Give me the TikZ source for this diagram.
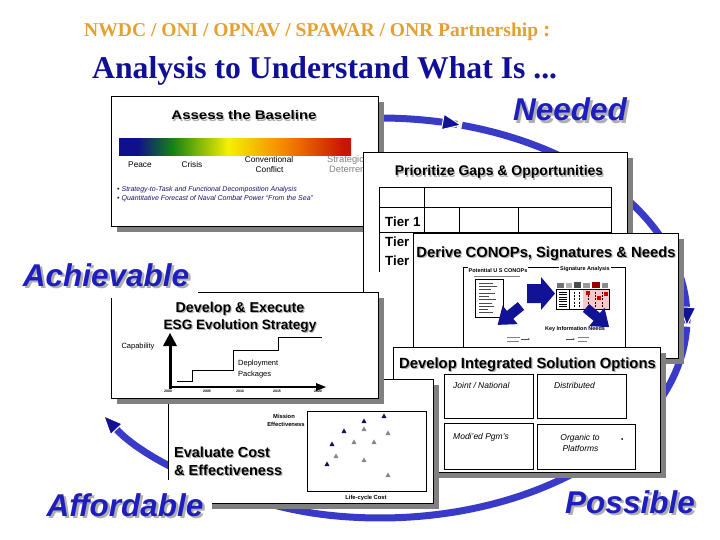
\documentclass[tikz,border=0pt]{standalone}
\usepackage{fontspec}
\setmainfont{Liberation Serif}
\setsansfont{Liberation Sans}
\usetikzlibrary{arrows.meta}
\newcommand\fpx[1]{\fontsize{#1}{#1}\selectfont}
\definecolor{ttlorange}{RGB}{228,160,48}
\definecolor{ttlblue}{RGB}{16,16,150}
\definecolor{bigblue}{RGB}{30,30,190}
\definecolor{arcblue}{RGB}{58,58,200}
\definecolor{navy}{RGB}{18,18,150}
\definecolor{shgray}{RGB}{128,128,128}
\definecolor{txtshadow}{RGB}{175,175,175}
\definecolor{bulletblue}{RGB}{20,20,110}
\definecolor{darknavy}{RGB}{16,16,96}
\definecolor{trigray}{RGB}{136,136,136}
\definecolor{pinkfill}{RGB}{250,200,200}
\definecolor{spBlue}{RGB}{16,16,140}
\definecolor{spGreen}{RGB}{20,130,20}
\definecolor{spYellow}{RGB}{245,240,0}
\definecolor{spOrange}{RGB}{245,130,0}
\definecolor{spRed}{RGB}{200,20,0}
\pgfdeclarehorizontalshading{spectrum}{100bp}{color(0bp)=(spBlue); color(25bp)=(spBlue); color(29bp)=(spBlue); color(36.5bp)=(spGreen); color(48.5bp)=(spYellow); color(61bp)=(spOrange); color(73.5bp)=(spRed); color(75bp)=(spRed); color(100bp)=(spRed)}
\newcommand\panel[4]{%
  \fill[shgray] ({#1+6},{#2+6}) rectangle ({#3+6},{#4+6});
  \draw[fill=white, line width=0.9pt] (#1,#2) rectangle (#3,#4);}
\newcommand\shnode[6][1.2]{%
  \node[#4, text=txtshadow] at ({#2+#1},{#3+#1}) {#5};
  \node[#4] (#6) at (#2,#3) {#5};}
\newcommand\tri[3]{\fill[#1] ({#2-2.6},{#3+2.2}) -- ({#2+2.6},{#3+2.2}) -- (#2,{#3-2.6}) -- cycle;}
\begin{document}
\begin{tikzpicture}[x=1pt,y=-1pt,
  boxttl/.style={font=\sffamily\bfseries\fpx{14.5}, inner sep=0pt, anchor=base},
  bigword/.style={font=\sffamily\bfseries\itshape\fpx{31.5}, text=bigblue, inner sep=0pt, anchor=base},
  lbl/.style={font=\sffamily\fpx{8.3}, inner sep=0pt, anchor=base},
  tinyb/.style={font=\sffamily\bfseries\fpx{5.5}, inner sep=0pt, anchor=base},
  ital/.style={font=\sffamily\itshape\fpx{8.5}, inner sep=0pt, anchor=base},
  tierlbl/.style={font=\sffamily\bfseries\fpx{13.3}, inner sep=0pt, anchor=base west},
  arcline/.style={draw=arcblue, line width=7pt},
  midtip/.style={-{Triangle[length=20pt,width=17pt,fill=navy,color=white,line width=1pt]}}]
\useasboundingbox (0,0) rectangle (720,540);
\fill[white] (0,0) rectangle (720,540);

% ---- cycle arc ----
\draw[arcline, midtip] plot[domain=-112:-74.5, samples=40] ({380+307*cos(\x)},{318+200*sin(\x)});
\draw[arcline, midtip] plot[domain=-74.5:2.5, samples=80] ({380+307*cos(\x)},{318+200*sin(\x)});
\draw[arcline, midtip] plot[domain=2.5:100, samples=100] ({380+307*cos(\x)},{318+200*sin(\x)})
   .. controls (247.2,505.9) and (150,465) .. (103,415);

% ---- Assess the Baseline ----
\panel{111}{96}{378}{226}
\shnode{244}{120}{boxttl, font=\sffamily\bfseries\fpx{12.5}}{\scalebox{1.2}[1]{Assess the Baseline}}{assess}
\shade[shading=spectrum] (119,139) rectangle (351,156);
\node[lbl] (peace) at (140,168) {Peace};
\node[lbl] (crisis) at (192,168) {Crisis};
\node[lbl] (conv) at (269,163) {Conventional};
\node[lbl] (confl) at (269.5,173) {Conflict};
\node[lbl, font=\sffamily\fpx{9.3}, text=gray, anchor=base west] (strat) at (327,163) {Strategic};
\node[lbl, font=\sffamily\fpx{9.3}, text=gray, anchor=base west] (deter) at (329,173) {Deterrence};
\node[font=\sffamily\itshape\fpx{7}, text=bulletblue, inner sep=0pt, anchor=base west] (b1) at (117,192) {\textbullet\ Strategy-to-Task and Functional Decomposition Analysis};
\node[font=\sffamily\itshape\fpx{7}, text=bulletblue, inner sep=0pt, anchor=base west] (b2) at (117,201) {\textbullet\ Quantitative Forecast of Naval Combat Power “From the Sea”};

% ---- Prioritize Gaps ----
\panel{363}{152}{627}{400}
\shnode{499}{176}{boxttl, font=\sffamily\bfseries\fpx{14}}{Prioritize Gaps \& Opportunities}{prio}
\draw[line width=0.8pt] (379,187) -- (611,187) (379,207) -- (611,207) (379,232) -- (611,232)
  (379,187) -- (379,272) (424,187) -- (424,272) (611,187) -- (611,272)
  (459,207) -- (459,272) (518,207) -- (518,272);
\node[tierlbl] (t1) at (385,226) {Tier 1};
\node[tierlbl] (t2) at (385,246) {Tier 2};
\node[tierlbl] (t3) at (385,265) {Tier 3};

% ---- Derive CONOPs ----
\panel{413}{233}{678}{358}
\shnode{546}{257}{boxttl, font=\sffamily\bfseries\fpx{14.75}}{Derive CONOPs, Signatures \& Needs}{derive}
\draw[line width=0.7pt] (463,267) rectangle (625,352);
\node[tinyb, fill=white, inner sep=1pt] (potc) at (498,272) {Potential U S CONOPs};
\draw[gray, line width=0.6pt] (474,276) -- (520,276);
\draw[fill=white, line width=0.5pt] (475,279) rectangle (503,317);
\foreach \i/\l in {0/14,1/18,2/12,3/16,4/10,5/17,6/13,7/15,8/9,9/14}
  \draw[black!70, line width=0.5pt] (479,{283+3.3*\i}) -- ({479+\l},{283+3.3*\i});
\fill[navy] (527,284) -- (541,284) -- (541,277) -- (555,293.5) -- (541,310) -- (541,303) -- (527,303) -- cycle;
\node[tinyb, fill=white, inner sep=1pt] (siga) at (585,270) {Signature Analysis};
\fill[black!55] (557,283) rectangle (564,288);
\fill[black!30] (566,283) rectangle (572,288);
\fill[black!70] (574,282) rectangle (581,288);
\fill[black!40] (583,283) rectangle (590,288);
\fill[red!60!black] (592,282) rectangle (600,288);
\fill[black!45] (602,283) rectangle (608,288);
\fill[pinkfill] (583,289) rectangle (609,309);
\draw[line width=0.7pt] (556,289) rectangle (609,309);
\foreach \k in {0,...,6} \draw[line width=0.6pt] (559,{292+2.4*\k}) -- (567,{292+2.4*\k});
\draw[line width=0.8pt] (569,289) -- (569,309);
\foreach \xx in {574,579,588,595,602} \draw[line width=0.9pt, dash pattern=on 2pt off 1.2pt] (\xx,292) -- (\xx,307);
\fill[red!80!black] (586,291) rectangle (590,295);
\fill[red!80!black] (597,296) rectangle (601,300);
\fill[red!80!black] (604,292) rectangle (608,296);
\begin{scope}[shift={(521,306)}, rotate=-141]
  \fill[navy] (0,-5) -- (14,-5) -- (14,-12) -- (30,0) -- (14,12) -- (14,5) -- (0,5) -- cycle;
\end{scope}
\begin{scope}[shift={(586,308)}, rotate=-39.6]
  \fill[navy] (0,-5) -- (14,-5) -- (14,-12) -- (30,0) -- (14,12) -- (14,5) -- (0,5) -- cycle;
\end{scope}
\node[tinyb] (kin) at (575,330) {Key Information Needs};
\draw[gray, line width=0.5pt] (507,337) -- (520,337) (507,341) -- (519,341);
\draw[black!70, line width=0.5pt, -{Stealth[length=2pt]}] (521,339) -- (530,339);
\draw[black!70, line width=0.5pt, -{Stealth[length=2pt]}] (566,339) -- (575,339);
\draw[gray, line width=0.5pt] (578,337) -- (589,337) (578,341) -- (587,341);

% ---- Develop Integrated Solution Options ----
\panel{393}{347}{660}{472}
\shnode{527.5}{368}{boxttl, font=\sffamily\bfseries\fpx{14.8}}{Develop Integrated Solution Options}{dev}
\draw[line width=0.7pt] (444,374) rectangle (533,418);
\draw[line width=0.7pt] (537,374) rectangle (626,418);
\draw[line width=0.7pt] (444,423) rectangle (533,469);
\draw[line width=0.7pt] (537,424) rectangle (635,469);
\node[ital, anchor=base west] (jn) at (453,388) {Joint / National};
\node[ital, anchor=base west] (dist) at (554,388) {Distributed};
\node[ital, anchor=base west] (mod) at (453,439) {Modi'ed Pgm's};
\node[ital] (org) at (580,440) {Organic to};
\node[ital] (plat) at (580.5,451) {Platforms};
\fill (622,439) circle (1pt);

% ---- Evaluate Cost & Effectiveness ----
\panel{168}{379}{433}{503}
\shnode{174}{457}{boxttl, anchor=base west}{Evaluate Cost}{eval1}
\shnode{174}{475}{boxttl, anchor=base west}{\& Effectiveness}{eval2}
\draw[line width=0.8pt] (307,411) rectangle (426,491);
\node[tinyb, font=\sffamily\bfseries\fpx{5.8}] (mis) at (284,418) {Mission};
\node[tinyb, font=\sffamily\bfseries\fpx{5.8}] (eff) at (286,426) {Effectiveness};
\node[tinyb, font=\sffamily\bfseries\fpx{5.8}] (lcc) at (366,499) {Life-cycle Cost};
\tri{darknavy}{384}{416}
\tri{darknavy}{364}{421}
\tri{darknavy}{344}{431}
\tri{darknavy}{332}{444}
\tri{darknavy}{327}{464}
\tri{trigray}{364}{429}
\tri{trigray}{388}{433}
\tri{trigray}{354}{442}
\tri{trigray}{374}{442}
\tri{trigray}{336}{456}
\tri{trigray}{364}{460}
\tri{trigray}{388}{475}

% ---- Develop & Execute ESG ----
\panel{111}{292}{378}{398}
\shnode{240}{312}{boxttl, font=\sffamily\bfseries\fpx{14.3}}{Develop \& Execute}{esg1}
\shnode{240}{329}{boxttl, font=\sffamily\bfseries\fpx{13.6}}{ESG Evolution Strategy}{esg2}
\draw[line width=3pt] (170,388.5) -- (170,344);
\fill (163,346) -- (177,346) -- (170,333) -- cycle;
\draw[line width=2.5pt] (168.5,387) -- (318,387);
\fill (316,383) -- (326,387) -- (316,391) -- cycle;
\draw[line width=1pt] (177,381) -- (192,381) -- (192,370) -- (233,370) -- (233,350) -- (278,350) -- (278,337) -- (322,337);
\foreach \xx/\yy in {168/2000,207/2005,240/2010,277/2015,318/2020}
  \node[font=\sffamily\bfseries\fpx{3.5}, inner sep=0pt] at (\xx,391.5) {\yy};
\node[lbl, font=\sffamily\fpx{7.5}] (cap) at (138,348) {Capability};
\node[lbl, font=\sffamily\fpx{7.5}, anchor=base west] (dep1) at (238,365) {Deployment};
\node[lbl, font=\sffamily\fpx{7.5}, anchor=base west] (dep2) at (238,376) {Packages};

% ---- big words ----
\fill[white] (16,250) rectangle (198,298);
\fill[white] (38,480) rectangle (212,530);
\shnode[2.5]{570}{121}{bigword}{Needed}{needed}
\shnode[2.5]{106}{286}{bigword}{Achievable}{achiev}
\shnode[2.5]{125}{516}{bigword}{Affordable}{afford}
\shnode[2.5]{630}{513}{bigword}{Possible}{possible}

% ---- titles ----
\node[anchor=base west, inner sep=0pt, text=ttlorange] (t1line) at (84,37)
  {\resizebox{454pt}{!}{\fpx{18.5}\bfseries NWDC / ONI / OPNAV / SPAWAR / ONR Partnership}\hspace{5pt}{\fpx{22}\bfseries :}};
\node[anchor=base west, inner sep=0pt, text=ttlblue] (t2line) at (92,79)
  {\resizebox{465pt}{!}{\fpx{32}\bfseries Analysis to Understand What Is ...}};
\end{tikzpicture}
\end{document}
